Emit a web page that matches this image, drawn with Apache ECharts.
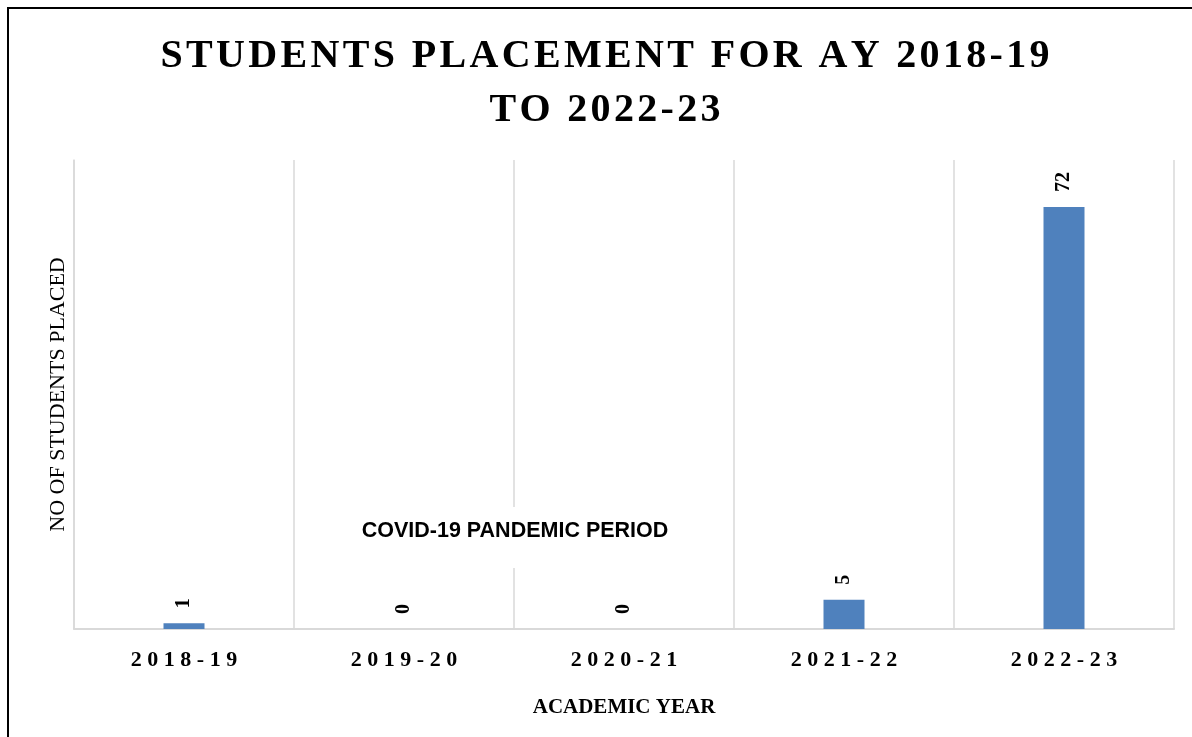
<!DOCTYPE html>
<html>
  <head>
    <meta charset="utf-8" />
    <title>Students Placement</title>
    <script src="https://cdn.jsdelivr.net/npm/echarts@6/dist/echarts.min.js"></script>
    <style>
      html, body { margin: 0; padding: 0; background: #fff; }
    </style>
  </head>
  <body>
    <div id="main" style="width: 1192px; height: 737px"></div>
    <script type="text/javascript">
      var years = ['2018-19', '2019-20', '2020-21', '2021-22', '2022-23'];
      var placed = [1, 0, 0, 5, 72];

      // spread letters out (no letter-spacing in canvas text)
      function spaced(s, gap) {
        return s.split('').join(gap);
      }

      var chartDom = document.getElementById('main');
      var myChart = echarts.init(chartDom);
      var option;

      option = {
        backgroundColor: '#fff',
        animation: false,
        title: {
          text: spaced('STUDENTS PLACEMENT FOR AY 2018-19', '\u200A') + '\n' + spaced('TO 2022-23', '\u200A'),
          left: 600,
          textAlign: 'center',
          top: 25,
          textStyle: {
            fontFamily: 'Liberation Serif',
            fontWeight: 'bold',
            fontSize: 40,
            lineHeight: 54,
            color: '#000'
          }
        },
        grid: {
          left: 74,
          right: 18,
          top: 160,
          bottom: 108
        },
        xAxis: {
          type: 'category',
          data: years,
          name: 'ACADEMIC YEAR',
          nameLocation: 'middle',
          nameGap: 68,
          nameTextStyle: {
            fontFamily: 'Liberation Serif',
            fontWeight: 'bold',
            fontSize: 21,
            color: '#000'
          },
          axisLine: { lineStyle: { color: '#d9d9d9', width: 2 } },
          axisTick: { show: false },
          axisLabel: {
            margin: 20,
            fontFamily: 'Liberation Serif',
            fontWeight: 'bold',
            fontSize: 22,
            color: '#000',
            formatter: function (v) {
              return spaced(v, '\u2005');
            }
          },
          splitLine: { show: true, lineStyle: { color: '#d9d9d9', width: 1.5 } }
        },
        yAxis: {
          type: 'value',
          min: 0,
          max: 80,
          name: 'NO OF STUDENTS PLACED',
          nameLocation: 'middle',
          nameGap: 5,
          nameTextStyle: {
            fontFamily: 'Liberation Serif',
            fontSize: 22,
            color: '#000'
          },
          axisLine: { show: true, lineStyle: { color: '#d9d9d9', width: 1.5 } },
          axisTick: { show: false },
          axisLabel: { show: false },
          splitLine: { show: false }
        },
        series: [
          {
            type: 'bar',
            data: placed,
            barWidth: 41,
            itemStyle: { color: '#4f81bd' },
            label: {
              show: true,
              position: 'top',
              rotate: 90,
              align: 'left',
              verticalAlign: 'middle',
              distance: 15,
              fontFamily: 'Liberation Serif',
              fontWeight: 'bold',
              fontSize: 20,
              color: '#000'
            }
          }
        ],
        graphic: [
          {
            type: 'rect',
            silent: true,
            shape: { x: 8, y: 8, width: 1300, height: 900 },
            style: { fill: 'none', stroke: '#000', lineWidth: 2 }
          },
          {
            type: 'rect',
            silent: true,
            z: 100,
            shape: { x: 345, y: 507, width: 340, height: 61 },
            style: { fill: '#fff' }
          },
          {
            type: 'text',
            silent: true,
            z: 101,
            x: 515,
            y: 531,
            style: {
              text: 'COVID-19 PANDEMIC PERIOD',
              fontFamily: 'Liberation Sans',
              fontWeight: 'bold',
              fontSize: 21.5,
              fill: '#000',
              align: 'center',
              verticalAlign: 'middle'
            }
          }
        ]
      };

      option && myChart.setOption(option);
    </script>
  </body>
</html>
